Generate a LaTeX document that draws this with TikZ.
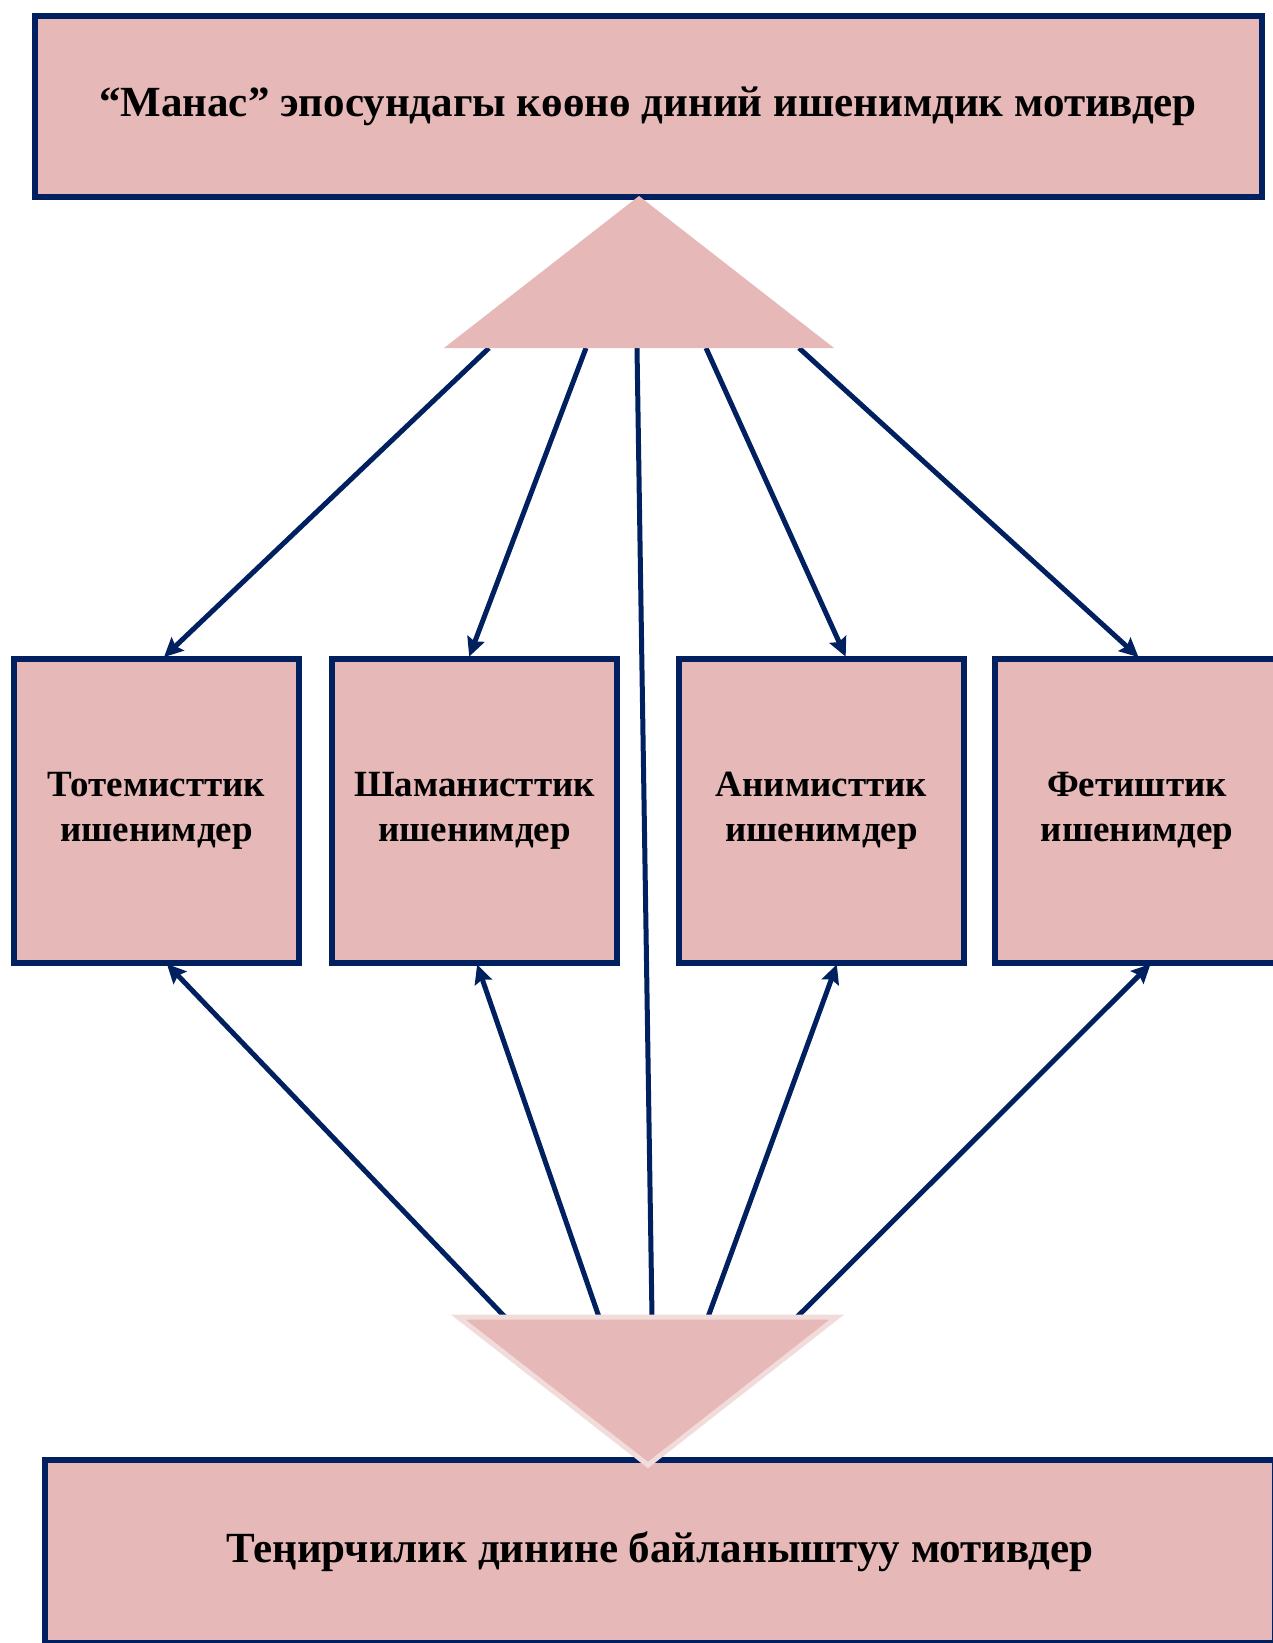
\documentclass[tikz,border=0pt]{standalone}
\usepackage{fontspec}
\setmainfont{Liberation Serif}
\usetikzlibrary{arrows.meta}

\definecolor{navy}{HTML}{002060}
\definecolor{rosefill}{HTML}{E6B9B8}
\definecolor{roseline}{HTML}{F2DCDB}

\tikzset{
    motbox/.style={draw=navy, line width=6pt, fill=rosefill, outer sep=0pt,
        inner sep=0pt, align=center, font=\bfseries},
    kindbox/.style={motbox, minimum width=285pt, minimum height=304pt,
        font=\fontsize{37}{45}\selectfont\bfseries},
    link/.style={draw=navy, line width=5pt, -{Stealth[length=19pt,width=18pt,inset=3pt]},
        shorten >=2pt}
}

\begin{document}
\begin{tikzpicture}[x=1pt, y=-1pt]
    \useasboundingbox (0,0) rectangle (1273,1643);

    % Main boxes
    \node[motbox, minimum width=1227pt, minimum height=180pt,
        font=\fontsize{43}{50}\selectfont\bfseries] (epic) at (648,106.5)
        {“Манас” эпосундагы көөнө диний ишенимдик мотивдер};
    \node[motbox, minimum width=1229.5pt, minimum height=183.5pt,
        font=\fontsize{43}{50}\selectfont\bfseries] (tengri) at (660,1551.25)
        {Теңирчилик динине байланыштуу мотивдер};

    % Belief boxes
    \node[kindbox] (totem) at (156.5,810.5) {Тотемисттик\\ишенимдер};
    \node[kindbox] (shaman) at (474.5,810.5) {Шаманисттик\\ишенимдер};
    \node[kindbox] (anim) at (821.5,810.5) {Анимисттик\\ишенимдер};
    \node[kindbox] (fetish) at (1137,810.5) {Фетиштик\\ишенимдер};

    % -- top triangle base
    \coordinate (t1) at (489,348);
    \coordinate (t2) at (586,348);
    \coordinate (t3) at (637,348);
    \coordinate (t4) at (706,348);
    \coordinate (t5) at (799,348);

    % -- bottom triangle top
    \coordinate (b1) at (505,1317);
    \coordinate (b2) at (599,1317);
    \coordinate (b3) at (652,1317);
    \coordinate (b4) at (708,1317);
    \coordinate (b5) at (797,1317);

    % Connectors
    \draw[link] (t1) -- ([xshift=6pt]totem.north);
    \draw[link] (t2) -- ([xshift=-6pt]shaman.north);
    \draw[link] (t4) -- ([xshift=25pt]anim.north);
    \draw[link] (t5) -- ([xshift=3pt]fetish.north);
    \draw[navy, line width=5pt] (t3) -- (b3);
    \draw[link] (b1) -- ([xshift=9pt]totem.south);
    \draw[link] (b2) -- ([xshift=2pt]shaman.south);
    \draw[link] (b4) -- ([xshift=16pt]anim.south);
    \draw[link] (b5) -- ([xshift=15pt]fetish.south);

    % Triangles
    \fill[rosefill] (444,348) -- (639,196) -- (834,348) -- cycle;
    \filldraw[fill=rosefill, draw=roseline, line width=5pt]
        (458,1317) -- (837,1317) -- (648,1465) -- cycle;
\end{tikzpicture}
\end{document}
